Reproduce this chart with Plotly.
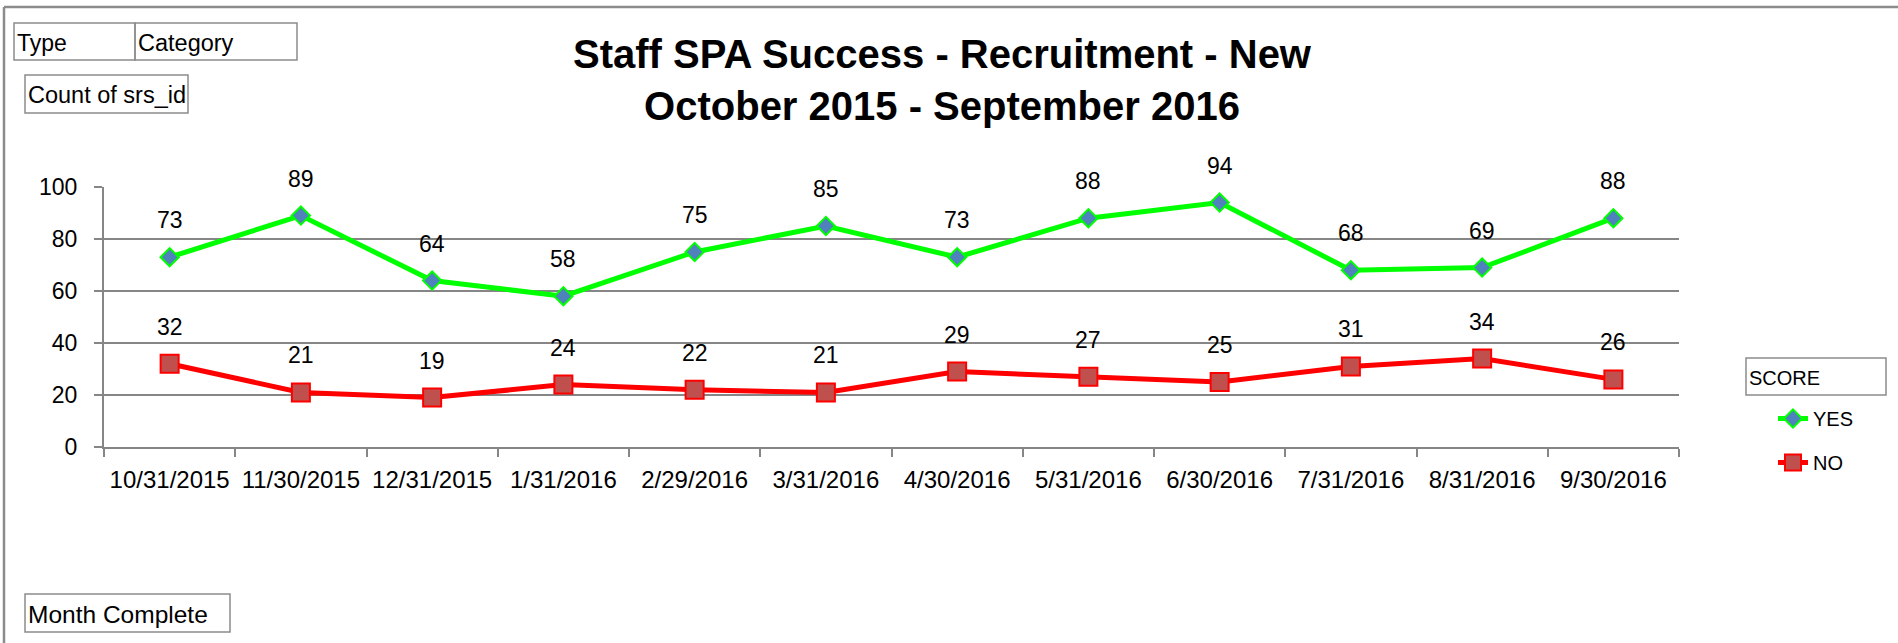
import plotly.graph_objects as go

months = ["10/31/2015", "11/30/2015", "12/31/2015", "1/31/2016", "2/29/2016", "3/31/2016",
          "4/30/2016", "5/31/2016", "6/30/2016", "7/31/2016", "8/31/2016", "9/30/2016"]
yes_counts = [73, 89, 64, 58, 75, 85, 73, 88, 94, 68, 69, 88]
no_counts = [32, 21, 19, 24, 22, 21, 29, 27, 25, 31, 34, 26]
y_ticks = [0, 20, 40, 60, 80, 100]

W, H = 1898, 643
L, R, T, B = 104, 1679, 187, 447  # plot area in pixels

FONT = "Liberation Sans"
GRID = "#868686"
BOX = "#8C8C8C"


def px(x):
    return (x - L) / (R - L)


def py(y):
    return (B - y) / (B - T)


fig = go.Figure()
fig.add_trace(go.Scatter(
    x=months, y=yes_counts, name="YES", mode="lines+markers",
    line=dict(color="#00FF00", width=5),
    marker=dict(symbol="diamond", size=14, color="#4F81BD", line=dict(color="#00FF00", width=2)),
    legendgroup="yes",
))
fig.add_trace(go.Scatter(
    x=months, y=no_counts, name="NO", mode="lines+markers",
    line=dict(color="#FF0000", width=5),
    marker=dict(symbol="square", size=18, color="#C0504D", line=dict(color="#FF0000", width=2)),
    legendgroup="no",
))

annotations = []
for m, v in zip(months, yes_counts):
    annotations.append(dict(x=m, y=v, text=str(v), showarrow=False, yshift=37,
                            font=dict(family=FONT, size=23, color="black")))
for m, v in zip(months, no_counts):
    annotations.append(dict(x=m, y=v, text=str(v), showarrow=False, yshift=37,
                            font=dict(family=FONT, size=23, color="black")))

# field button boxes (pivot chart style): text, x0, y0, x1, y1, font size
boxes = [
    ("Type", 14, 23, 135, 60, 23),
    ("Category", 135, 23, 297, 60, 23.5),
    ("Count of srs_id", 25, 75, 188, 113, 23.5),
    ("Month Complete", 25, 594, 230, 632, 24.5),
    ("SCORE", 1746, 358, 1886, 395, 20),
]
shapes = []
for text, x0, y0, x1, y1, fs in boxes:
    shapes.append(dict(type="rect", xref="paper", yref="paper",
                       x0=px(x0), x1=px(x1), y0=py(y0), y1=py(y1),
                       line=dict(color=BOX, width=1.5), fillcolor="rgba(0,0,0,0)"))
    annotations.append(dict(xref="paper", yref="paper", x=px(x0 + 1), y=py((y0 + y1) / 2 + 1),
                            xanchor="left", yanchor="middle", text=text, showarrow=False,
                            font=dict(family=FONT, size=fs, color="black")))

# outer chart border (left and top)
shapes.append(dict(type="line", xref="paper", yref="paper", x0=px(4), x1=px(4), y0=py(7), y1=py(H + 5),
                   line=dict(color=BOX, width=2.5)))
shapes.append(dict(type="line", xref="paper", yref="paper", x0=px(4), x1=px(W + 5), y0=py(7), y1=py(7),
                   line=dict(color=BOX, width=2.5)))

fig.update_layout(
    width=W, height=H,
    margin=dict(l=L, r=W - R, t=T, b=H - B),
    paper_bgcolor="white", plot_bgcolor="white",
    font=dict(family=FONT, color="black"),
    title=dict(text="<b>Staff SPA Success - Recruitment - New<br>October 2015 - September 2016</b>",
               x=942 / W, xanchor="center", xref="container",
               y=1 - 68 / H, yanchor="middle", yref="container",
               font=dict(family=FONT, size=40, color="black")),
    xaxis=dict(type="category", categoryorder="array", categoryarray=months,
               range=[-0.5, len(months) - 0.5],
               showgrid=False, showline=True, linecolor=GRID, linewidth=2,
               ticks="outside", tickson="boundaries", ticklen=8, tickcolor=GRID, tickwidth=2,
               tickfont=dict(family=FONT, size=24, color="black"), ticklabelstandoff=10),
    yaxis=dict(range=[0, 100], tickvals=y_ticks, showgrid=True, gridcolor=GRID, gridwidth=1.5,
               showline=True, linecolor=GRID, linewidth=2, zeroline=False,
               ticks="outside", ticklen=8, tickcolor=GRID, tickwidth=2,
               tickfont=dict(family=FONT, size=23, color="black"), ticklabelstandoff=12),
    legend=dict(x=px(1773), xanchor="left", y=py(399), yanchor="top",
                font=dict(family=FONT, size=20, color="black"),
                bgcolor="rgba(0,0,0,0)", tracegroupgap=15),
    shapes=shapes,
    annotations=annotations,
)

fig.write_html("out.html", config={"displayModeBar": False},
               post_script="document.body.style.margin='0';document.body.style.overflow='hidden';")
